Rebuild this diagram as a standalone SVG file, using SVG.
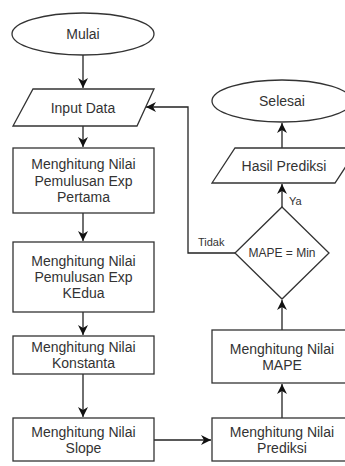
<svg xmlns="http://www.w3.org/2000/svg" width="345" height="466" viewBox="0 0 345 466">
<defs>
<style>
.s{fill:#fff;stroke:#333;stroke-width:1.3}
.t{font-family:"Liberation Sans",Arial,sans-serif;font-size:14px;fill:#333;text-anchor:middle;dominant-baseline:central}
.sm{font-size:11px;text-anchor:start}
.c{fill:none;stroke:#222;stroke-width:1.3}
</style>
<marker id="a" markerUnits="userSpaceOnUse" markerWidth="12" markerHeight="12" refX="10" refY="5" orient="auto">
<path d="M0,0 L10,5 L0,10 L3,5 Z" fill="#111"/>
</marker>
</defs>
<g id="connectors">
<line class="c" x1="83" y1="55" x2="83" y2="88" marker-end="url(#a)"/>
<line class="c" x1="83" y1="126" x2="83" y2="147" marker-end="url(#a)"/>
<line class="c" x1="83" y1="213" x2="83" y2="241" marker-end="url(#a)"/>
<line class="c" x1="83" y1="312" x2="83" y2="335" marker-end="url(#a)"/>
<line class="c" x1="83" y1="374" x2="83" y2="417" marker-end="url(#a)"/>
<line class="c" x1="154" y1="440" x2="211" y2="440" marker-end="url(#a)"/>
<line class="c" x1="282" y1="418" x2="282" y2="384" marker-end="url(#a)"/>
<line class="c" x1="282" y1="330" x2="282" y2="300" marker-end="url(#a)"/>
<line class="c" x1="282" y1="207" x2="282" y2="184" marker-end="url(#a)"/>
<line class="c" x1="282" y1="148" x2="282" y2="123" marker-end="url(#a)"/>
<polyline class="c" points="235,253 188,253 188,107 146,107" marker-end="url(#a)"/>
<text class="t sm" x="289" y="201">Ya</text>
<text class="t sm" x="198" y="242">Tidak</text>
</g>
<g id="mulai"><ellipse class="s" cx="83" cy="34" rx="71" ry="21"/><text class="t" x="83" y="34">Mulai</text></g>
<g id="input"><polygon class="s" points="33,89 154,89 137,126 13,126"/><text class="t" x="83" y="107.5">Input Data</text></g>
<g id="exp1"><rect class="s" x="13" y="148" width="141" height="65"/><text class="t" x="83.5" y="164">Menghitung Nilai</text><text class="t" x="83.5" y="180.5">Pemulusan Exp</text><text class="t" x="83.5" y="197">Pertama</text></g>
<g id="exp2"><rect class="s" x="13" y="242" width="141" height="70"/><text class="t" x="83.5" y="261">Menghitung Nilai</text><text class="t" x="83.5" y="277">Pemulusan Exp</text><text class="t" x="83.5" y="293">KEdua</text></g>
<g id="konstanta"><rect class="s" x="13" y="336" width="141" height="38"/><text class="t" x="83.5" y="347">Menghitung Nilai</text><text class="t" x="83.5" y="363">Konstanta</text></g>
<g id="slope"><rect class="s" x="13" y="418" width="141" height="43"/><text class="t" x="83.5" y="431.5">Menghitung Nilai</text><text class="t" x="83.5" y="447.5">Slope</text></g>
<g id="prediksi"><rect class="s" x="212" y="418" width="140" height="43"/><text class="t" x="282" y="431.5">Menghitung Nilai</text><text class="t" x="282" y="447.5">Prediksi</text></g>
<g id="mape"><rect class="s" x="212" y="330" width="140" height="53"/><text class="t" x="282" y="348.5">Menghitung Nilai</text><text class="t" x="282" y="364.5">MAPE</text></g>
<g id="decision"><polygon class="s" points="282,207 329,253 282,299 235,253"/><text class="t" x="282" y="253" style="font-size:12px">MAPE = Min</text></g>
<g id="hasil"><polygon class="s" points="235,148 358,148 335,183 212,183"/><text class="t" x="284" y="165.5">Hasil Prediksi</text></g>
<g id="selesai"><ellipse class="s" cx="282" cy="101" rx="70" ry="21"/><text class="t" x="282" y="101">Selesai</text></g>
</svg>
